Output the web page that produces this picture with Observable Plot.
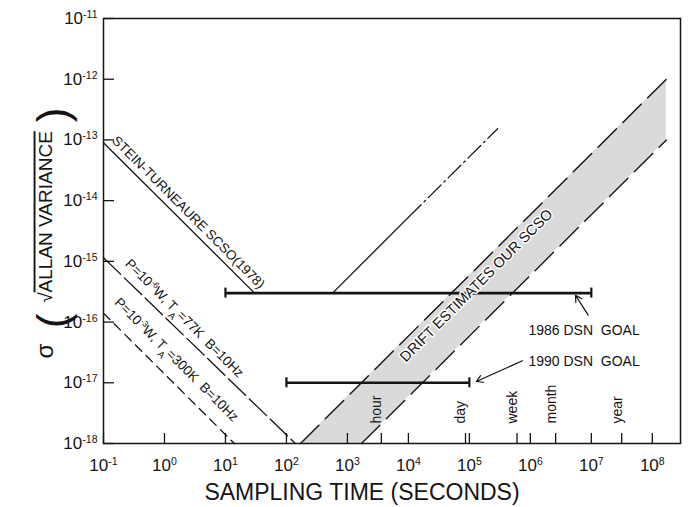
<!DOCTYPE html>
<html><head><meta charset="utf-8">
<script src="https://cdn.jsdelivr.net/npm/d3@7"></script>
<script src="https://cdn.jsdelivr.net/npm/@observablehq/plot@0.6"></script>
<style>
body{margin:0;background:#fff;}
#chart svg{font-family:"Liberation Sans",Arial,sans-serif;background:#fff;color:#111;}
</style>
</head><body><div id="chart"></div>
<script>
// ---- axis ticks ----
const xTicks = [1e-1, 1e0, 1e1, 1e2, 1e3, 1e4, 1e5, 1e6, 1e7, 1e8];
const yTicks = [1e-18, 1e-17, 1e-16, 1e-15, 1e-14, 1e-13, 1e-12, 1e-11];
const eventNames = ["hour", "day", "week", "month", "year"];
const eventTau = [3600, 86400, 604800, 2.6e6, 3.15e7];

// ---- Stein-Turneaure SCSO (1978) ----
const steinTau = [0.1, 30, 570, 1e4];
const steinSigma = [9e-14, 3e-16, 3e-16, 5.3e-15];
const steinTailTau = [1e4, 2.9e5];
const steinTailSigma = [5.3e-15, 1.53e-13];

// ---- thermal noise limits ----
const p6Tau = [0.1, 140];
const p6Sigma = [1.15e-15, 1e-18];
const p3Tau = [0.1, 14];
const p3Sigma = [1.4e-16, 1e-18];

// ---- drift estimates band ----
const driftTau = [170, 1700, 1.7e8];
const driftLow = [1e-18, 1e-18, 1e-13];
const driftHigh = [1e-18, 1e-17, 1e-12];
const driftUpperTau = [170, 1.7e8];
const driftUpperSigma = [1e-18, 1e-12];
const driftLowerTau = [1700, 1.7e8];
const driftLowerSigma = [1e-18, 1e-13];

// ---- DSN goals ----
const goalNames = ["1986 DSN  GOAL", "1990 DSN  GOAL"];
const goalSigma = [3e-16, 1e-17];
const goalStart = [10, 100];
const goalEnd = [1e7, 1e5];
// annotation anchors (data units)
const goalLabelTau = [9.3e5, 9.3e5];
const goalLabelSigma = [7.2e-17, 2.2e-17];
const goalArrowTailTau = [8.9e6, 7.4e5];
const goalArrowTailSigma = [1.3e-16, 2.3e-17];
const goalArrowHeadTau = [5.5e6, 1.3e5];
const goalArrowHeadSigma = [2.75e-16, 1.05e-17];

// ---- line labels ----
const lineLabels = ["STEIN-TURNEAURE SCSO(1978)", "P=10^{-6}W, T_{A}=77K  B=10Hz", "P=10^{-3}W, T_{A}=300K  B=10Hz", "DRIFT ESTIMATES OUR SCSO"];
const lineLabelTau = [2.47, 2.13, 1.57, 1.3e5];
const lineLabelSigma = [6.4e-15, 1.15e-16, 2.4e-17, 4e-16];

// ---- build tables ----
const zip = (xs, ys) => xs.map((x, i) => ({tau: x, sigma: ys[i]}));
const stein = zip(steinTau, steinSigma);
const steinTail = zip(steinTailTau, steinTailSigma);
const p6 = zip(p6Tau, p6Sigma);
const p3 = zip(p3Tau, p3Sigma);
const band = driftTau.map((t, i) => ({tau: t, low: driftLow[i], high: driftHigh[i]}));
const driftUpper = zip(driftUpperTau, driftUpperSigma);
const driftLower = zip(driftLowerTau, driftLowerSigma);
const goals = goalNames.map((n, i) => ({name: n, sigma: goalSigma[i], start: goalStart[i], end: goalEnd[i]}));
const goalCaps = goals.flatMap(g => [{tau: g.start, sigma: g.sigma}, {tau: g.end, sigma: g.sigma}]);
const goalLabels = goalNames.map((n, i) => ({name: n, tau: goalLabelTau[i], sigma: goalLabelSigma[i]}));
const goalArrows = goalNames.map((n, i) => ({x1: goalArrowTailTau[i], y1: goalArrowTailSigma[i], x2: goalArrowHeadTau[i], y2: goalArrowHeadSigma[i]}));
const events = eventNames.map((n, i) => ({name: n, tau: eventTau[i]}));
const labels = lineLabels.map((n, i) => ({name: n, tau: lineLabelTau[i], sigma: lineLabelSigma[i]}));

const expFmt = d => `10^{${Math.round(Math.log10(d))}}`;
const ink = "#141414";

const chart = Plot.plot({
  width: 688,
  height: 507,
  marginLeft: 103,
  marginRight: 8,
  marginTop: 18,
  marginBottom: 64,
  x: {type: "log", domain: [0.1, 2.9e8]},
  y: {type: "log", domain: [1e-18, 1e-11]},
  marks: [
    // drift band fill
    Plot.areaY(band, {x: "tau", y1: "low", y2: "high", fill: "#dadada"}),
    // lines
    Plot.line(stein, {x: "tau", y: "sigma", stroke: ink, strokeWidth: 1.3}),
    Plot.line(steinTail, {x: "tau", y: "sigma", stroke: ink, strokeWidth: 1.3, strokeDasharray: "18,4,2,4"}),
    Plot.line(p6, {x: "tau", y: "sigma", stroke: ink, strokeWidth: 1.3, strokeDasharray: "24,5"}),
    Plot.line(p3, {x: "tau", y: "sigma", stroke: ink, strokeWidth: 1.3, strokeDasharray: "9,6"}),
    Plot.line(driftUpper, {x: "tau", y: "sigma", stroke: ink, strokeWidth: 1.4, strokeDasharray: "26,9"}),
    Plot.line(driftLower, {x: "tau", y: "sigma", stroke: ink, strokeWidth: 1.4, strokeDasharray: "26,9"}),
    // goals
    Plot.ruleY(goals, {y: "sigma", x1: "start", x2: "end", stroke: ink, strokeWidth: 2.6}),
    Plot.ruleX(goalCaps, {x: "tau", y1: "sigma", y2: "sigma", insetTop: -5, insetBottom: -5, stroke: ink, strokeWidth: 2.2}),
    Plot.arrow(goalArrows, {x1: "x1", y1: "y1", x2: "x2", y2: "y2", stroke: ink, strokeWidth: 1.2, headLength: 9}),
    Plot.text(goalLabels, {x: "tau", y: "sigma", text: "name", textAnchor: "start", fontSize: 14, fill: ink}),
    // line labels
    Plot.text(labels.slice(0, 3), {x: "tau", y: "sigma", text: "name", rotate: 45, fontSize: 13.5, fill: ink}),
    Plot.text(labels.slice(3), {x: "tau", y: "sigma", text: "name", rotate: -45, fontSize: 14.5, fill: ink, stroke: "white", strokeWidth: 3}),
    // event labels
    Plot.text(events, {x: "tau", text: "name", frameAnchor: "bottom", dy: -20, rotate: -90, textAnchor: "start", fontSize: 14, fill: ink}),
    // axes: inward ticks
    Plot.axisX([...xTicks, ...eventTau], {anchor: "bottom", tickSize: 10, dy: -10, fill: "none", stroke: ink, strokeWidth: 1.3, label: null}),
    Plot.axisX(xTicks, {anchor: "bottom", tickSize: 0, tickPadding: 15, tickFormat: expFmt, fontSize: 17, fill: ink, label: null}),
    Plot.axisY(yTicks, {anchor: "left", tickSize: 11, dx: 11, fill: "none", stroke: ink, strokeWidth: 1.3, label: null}),
    Plot.axisY(yTicks, {anchor: "left", tickSize: 0, tickPadding: 6, tickFormat: expFmt, fontSize: 17, fill: ink, label: null}),
    // axis titles
    Plot.text(["SAMPLING TIME (SECONDS)"], {text: d => d, frameAnchor: "bottom", dy: 56, dx: -30, fontSize: 23, fill: ink}),
    Plot.text(["√~{ALLAN VARIANCE}"], {text: d => d, frameAnchor: "left", textAnchor: "middle", dx: -58, dy: -14, rotate: -90, fontSize: 19, fill: ink}),
    Plot.text(["("], {text: d => d, frameAnchor: "left", textAnchor: "middle", dx: -50, dy: 90, rotate: -90, fontSize: 44, fontWeight: 100, fill: ink}),
    Plot.text([")"], {text: d => d, frameAnchor: "left", textAnchor: "middle", dx: -50, dy: -116, rotate: -90, fontSize: 44, fontWeight: 100, fill: ink}),
    Plot.text(["σ"], {text: d => d, frameAnchor: "left", textAnchor: "middle", dx: -58, dy: 120, rotate: -90, fontSize: 24, fill: ink}),
    Plot.frame({stroke: ink, strokeWidth: 1.5})
  ]
});

// turn ^{..} / _{..} / ~{..} markers into real tspans
d3.select(chart).selectAll("text").each(function () {
  const t = this.textContent;
  if (!/[\^_~]\{/.test(t)) return;
  const el = d3.select(this);
  el.text(null);
  const re = /([\^_~])\{([^}]*)\}/g;
  let last = 0, m;
  while ((m = re.exec(t))) {
    if (m.index > last) el.append("tspan").text(t.slice(last, m.index));
    const ts = el.append("tspan").text(m[2]);
    if (m[1] === "^") ts.attr("baseline-shift", "super").attr("font-size", "0.62em");
    else if (m[1] === "_") ts.attr("baseline-shift", "sub").attr("font-size", "0.7em");
    else ts.style("text-decoration", "overline");
    last = re.lastIndex;
  }
  if (last < t.length) el.append("tspan").text(t.slice(last));
});

document.getElementById("chart").append(chart);
</script>
</body></html>
